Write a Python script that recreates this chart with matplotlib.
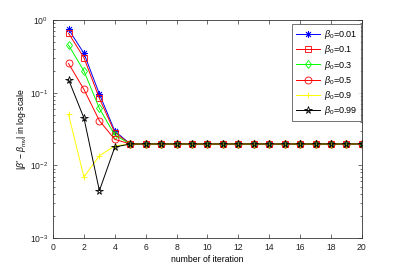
import matplotlib
matplotlib.use("Agg")
import matplotlib.pyplot as plt
import numpy as np

iterations = list(range(1, 21))
steady = 0.0197
b001 = [0.75, 0.348, 0.096, 0.0296] + [steady] * 16
b01 = [0.66, 0.303, 0.0836, 0.0282] + [steady] * 16
b03 = [0.453, 0.199, 0.0608, 0.0261] + [steady] * 16
b05 = [0.253, 0.111, 0.0412, 0.0228] + [steady] * 16
b09 = [0.0503, 0.0069, 0.0136, 0.0185] + [steady] * 16
b099 = [0.152, 0.0448, 0.00448, 0.0179] + [steady] * 16

labels = [r"$\beta_0$=0.01", r"$\beta_0$=0.1", r"$\beta_0$=0.3",
          r"$\beta_0$=0.5", r"$\beta_0$=0.9", r"$\beta_0$=0.99"]
series = [b001, b01, b03, b05, b09, b099]
colors = ["#0000ff", "#ff0000", "#00ff00", "#ff0000", "#ffff00", "#000000"]
markers = [(8, 2, 0), "s", "d", "o", "+", "*"]
msizes = [5, 4.5, 4.5, 5, 5, 5.5]

plt.rcParams["font.family"] = "Liberation Sans"
plt.rcParams["mathtext.fontset"] = "custom"
plt.rcParams["mathtext.rm"] = "Liberation Sans"
plt.rcParams["mathtext.it"] = "Liberation Sans:italic"

fig = plt.figure(figsize=(3.99, 2.68), dpi=100)
ax = fig.add_axes([0.133, 0.112, 0.774, 0.813])

for y, lab, c, m, ms in zip(series, labels, colors, markers, msizes):
    ax.plot(iterations, y, color=c, marker=m, markersize=ms,
            markerfacecolor="none", markeredgewidth=0.6, linewidth=0.7, label=lab)

ax.set_yscale("log")
ax.set_xlim(0, 20)
ax.set_ylim(1e-3, 1e0)
ax.set_xticks(range(0, 21, 2))
ax.tick_params(which="both", direction="in", top=True, right=True, labelsize=6.2,
               width=0.5, colors="#333333", labelcolor="#222222")
ax.tick_params(which="major", length=3)
ax.tick_params(which="minor", length=1.5)
for s in ax.spines.values():
    s.set_linewidth(0.6)
    s.set_color("#333333")
ax.set_xlabel("number of iteration", fontsize=6.2, labelpad=2)
ax.set_ylabel(r"$|\beta^{*}-\beta_{mv}|$ in log-scale", fontsize=6.2, labelpad=1)

leg = ax.legend(loc="upper right", bbox_to_anchor=(0.996, 0.98), borderaxespad=0,
                fontsize=6.5, fancybox=False, edgecolor="#333333",
                handlelength=2.7, handletextpad=0.4, labelspacing=0.25, borderpad=0.4)
leg.get_frame().set_linewidth(0.6)

fig.savefig("out.png", dpi=100)
